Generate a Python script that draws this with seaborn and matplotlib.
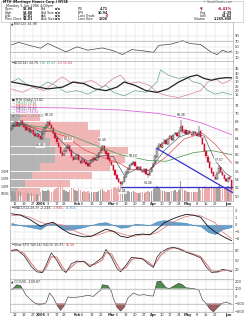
import numpy as np
import pandas as pd
import matplotlib
matplotlib.use("Agg")
import matplotlib.pyplot as plt
import seaborn as sns

# ---------------- data ----------------
holidays = ["2005-12-26", "2006-01-02", "2006-01-16", "2006-02-20", "2006-04-14", "2006-05-29"]

opens = [66.0, 66.6, 67.1, 67.9, 67.1, 67.5, 68.1, 67.3, 66.9, 66.0, 66.5, 65.5, 65.9, 65.1, 64.5, 64.9,
         64.4, 63.9, 65.1, 66.5, 66.9, 67.9, 67.1, 66.4, 65.3, 64.1, 62.9, 61.9, 60.4, 59.9, 60.9, 61.5, 62.0, 61.1, 59.5, 58.9,
         59.1, 59.9, 58.5, 58.1, 58.8, 58.3, 57.9, 57.2, 58.1, 58.5, 59.3, 58.7, 59.5, 60.5, 61.1, 62.1, 60.9, 60.3, 59.1,
         58.3, 57.5, 56.3, 55.1, 54.1, 53.5, 52.9, 53.5, 54.5, 55.9, 56.5, 57.5, 57.8, 58.3, 57.1, 56.5, 57.1, 56.1, 55.9, 56.5, 55.3, 55.1, 55.9,
         56.9, 57.9, 59.5, 61.6, 62.5, 61.7, 62.9, 63.5, 62.5, 63.9, 64.5, 63.5, 64.9, 65.3, 64.5, 65.7, 66.9, 65.3, 65.9,
         64.9, 65.7, 65.1, 64.7, 65.5, 64.9, 64.5, 65.7, 64.1, 62.7, 60.9, 59.5, 58.3, 56.7, 55.7, 54.7, 54.1, 55.5, 56.9, 55.7, 55.1, 54.1,
         53.5, 54.5, 53.88]
highs = [66.9, 67.5, 68.2, 68.1, 67.9, 68.3, 68.3, 67.6, 67.1, 66.7, 66.8, 66.2, 66.1, 65.4, 65.2, 65.1,
         64.6, 65.5, 66.7, 67.3, 68.1, 68.3, 67.4, 66.8, 65.6, 64.4, 63.1, 62.2, 60.7, 61.2, 61.9, 62.53, 62.3, 61.3, 59.8, 59.6,
         60.2, 60.1, 58.8, 59.2, 59.0, 58.5, 58.1, 58.3, 58.9, 59.5, 59.5, 59.9, 60.7, 61.5, 62.4, 62.3, 61.1, 60.5, 59.4,
         58.5, 57.7, 56.5, 55.4, 54.3, 53.7, 53.6, 54.9, 56.0, 56.9, 57.7, 58.1, 58.5, 58.4, 57.4, 57.3, 57.3, 56.4, 56.7, 56.7, 55.6, 56.1, 57.1,
         58.1, 59.9, 61.8, 62.8, 62.7, 63.0, 63.7, 63.7, 64.0, 64.7, 64.7, 65.0, 65.5, 65.5, 65.9, 68.38, 67.1, 66.1, 66.1,
         65.9, 65.9, 65.3, 65.6, 65.7, 65.1, 67.0, 65.9, 64.3, 62.9, 61.1, 59.8, 58.5, 57.0, 55.9, 55.0, 55.7, 57.57, 57.1, 56.0, 55.3, 54.3,
         54.7, 54.8, 53.88]
lows = [65.7, 66.3, 66.8, 66.7, 66.8, 67.2, 67.1, 66.5, 65.7, 65.8, 65.3, 65.2, 64.8, 64.3, 64.2, 63.9,
        63.45, 63.6, 64.9, 66.2, 66.6, 66.9, 66.2, 65.0, 63.8, 62.7, 61.5, 60.2, 59.4, 59.6, 60.6, 61.3, 60.7, 59.3, 58.5, 58.6,
        58.8, 58.4, 57.7, 57.9, 57.9, 57.6, 57.0, 57.0, 57.9, 58.3, 58.5, 58.5, 59.3, 60.3, 60.9, 60.8, 60.0, 58.8, 58.1,
        57.3, 56.0, 54.8, 53.9, 53.2, 52.6, 52.41, 53.3, 54.3, 55.6, 56.3, 57.2, 57.6, 57.0, 56.4, 56.3, 56.0, 55.6, 55.6, 55.2, 54.46, 54.9, 55.7,
        56.7, 57.7, 59.3, 61.3, 61.6, 61.5, 62.6, 62.4, 62.3, 63.7, 63.4, 63.3, 64.7, 64.3, 64.3, 65.5, 65.1, 65.1, 64.8,
        64.7, 65.0, 64.6, 64.5, 64.8, 64.4, 64.3, 64.0, 62.4, 60.6, 59.3, 58.0, 56.5, 55.4, 54.5, 53.9, 53.9, 55.3, 55.6, 54.8, 54.0, 53.4,
        53.3, 53.8, 50.81]
closes = [66.5, 67.2, 67.8, 67.0, 67.6, 68.0, 67.4, 66.8, 66.0, 66.4, 65.6, 65.9, 65.0, 64.6, 64.9, 64.2,
          63.8, 65.2, 66.4, 67.0, 67.8, 67.2, 66.5, 65.2, 64.0, 63.0, 61.8, 60.5, 59.8, 60.8, 61.6, 62.1, 61.0, 59.6, 58.8, 59.2,
          59.8, 58.6, 58.0, 58.9, 58.2, 57.8, 57.3, 58.0, 58.6, 59.2, 58.8, 59.6, 60.4, 61.2, 62.0, 61.0, 60.2, 59.0, 58.4,
          57.6, 56.2, 55.0, 54.2, 53.4, 52.8, 53.4, 54.6, 55.8, 56.6, 57.4, 57.9, 58.2, 57.2, 56.6, 57.0, 56.2, 55.8, 56.4, 55.4, 55.0, 55.8, 56.8,
          57.8, 59.6, 61.5, 62.4, 61.8, 62.8, 63.4, 62.6, 63.8, 64.4, 63.6, 64.8, 65.2, 64.6, 65.6, 66.8, 65.4, 65.8, 65.0,
          65.6, 65.2, 64.8, 65.4, 65.0, 64.6, 65.6, 64.2, 62.6, 60.8, 59.6, 58.2, 56.8, 55.6, 54.8, 54.2, 55.4, 56.8, 55.8, 55.0, 54.2, 53.6,
          54.4, 54.01, 51.62]
volumes_k = [700, 650, 600, 720, 680, 640, 590, 610, 700, 560, 540, 520, 480, 450, 500, 470,
             640, 720, 680, 700, 760, 650, 600, 680, 820, 900, 1050, 1450, 980, 760, 700, 640, 720, 850, 900, 760,
             700, 820, 760, 640, 680, 620, 700, 560, 600, 620, 580, 640, 700, 760, 820, 680, 640, 720, 760,
             800, 900, 940, 860, 1000, 1100, 980, 820, 760, 700, 640, 600, 680, 620, 560, 540, 600, 580, 560, 640, 700, 620, 680,
             820, 960, 1000, 900, 760, 700, 680, 640, 620, 600, 660, 700, 720, 640, 760, 1350, 900, 740, 680,
             620, 600, 580, 640, 600, 580, 880, 760, 900, 1000, 960, 920, 880, 1000, 940, 860, 980, 1050, 880, 820, 900, 940,
             1000, 880, 1270]

# moving averages (read at sparse points)
ma200_idx = [0, 30, 60, 80, 95, 105, 121]
ma200_val = [71.5, 71.3, 70.8, 70.0, 68.8, 67.6, 64.8]
ma50_idx = [0, 20, 35, 50, 60, 75, 85, 100, 110, 121]
ma50_val = [67.6, 66.5, 64.2, 61.6, 60.0, 58.6, 58.4, 60.5, 61.0, 60.0]
ma20_idx = [0, 10, 20, 30, 40, 50, 60, 65, 75, 85, 95, 105, 112, 121]
ma20_val = [67.0, 66.8, 65.8, 64.4, 61.2, 59.4, 57.8, 56.4, 56.2, 59.5, 63.8, 65.2, 62.5, 58.0]
ma10_idx = [0, 8, 16, 22, 28, 34, 42, 50, 56, 62, 68, 76, 84, 92, 100, 106, 112, 118, 121]
ma10_val = [67.0, 67.3, 65.5, 65.8, 63.0, 60.5, 58.4, 59.8, 59.6, 55.0, 56.4, 56.2, 61.0, 64.2, 65.6, 64.4, 58.5, 55.4, 54.6]

# trend lines
trend_idx = [80, 121.7]
trend_val = [61.5, 50.8]
support_idx = [60, 121.7]
support_val = [52.2, 52.2]

# price annotations
ann_idx = [16, 21, 31, 50, 61, 67, 75, 93, 114]
ann_val = [63.45, 68.30, 62.53, 62.40, 52.41, 58.50, 54.46, 68.38, 57.57]
ann_up = [False, True, True, True, False, True, False, True, True]

# volume by price
vbp_mid = [51, 53, 55, 57, 59, 61, 63, 65, 67, 69]
vbp_up = [8, 15, 22, 30, 45, 45, 40, 35, 18, 10]
vbp_down = [22, 45, 60, 70, 70, 73, 50, 55, 60, 20]

# indicators (read at sparse points)
rsi_idx = [0, 4, 10, 16, 20, 24, 30, 36, 42, 50, 56, 61, 66, 72, 78, 81, 88, 94, 98, 104, 110, 113, 116, 119, 121]
rsi_val = [57, 66, 55, 45, 62, 50, 32, 50, 38, 46, 36, 22, 40, 36, 30, 55, 60, 72, 62, 58, 30, 22, 38, 30, 35]

adx_idx = [0, 10, 20, 28, 34, 40, 46, 52, 58, 62, 68, 74, 80, 86, 92, 98, 102, 106, 110, 114, 118, 121]
adx_val = [30, 26, 22, 24, 30, 28, 22, 20, 24, 30, 26, 20, 18, 22, 30, 36, 38, 34, 32, 34, 35, 34.76]
pdi_idx = [0, 4, 8, 14, 20, 24, 30, 36, 42, 48, 52, 56, 62, 68, 74, 80, 82, 86, 92, 96, 100, 104, 108, 112, 116, 121]
pdi_val = [30, 34, 28, 22, 30, 26, 18, 20, 16, 22, 26, 18, 14, 20, 18, 30, 44, 38, 34, 36, 30, 28, 20, 16, 18, 15.47]
mdi_idx = [0, 6, 12, 18, 24, 28, 32, 38, 44, 50, 56, 60, 64, 70, 76, 80, 86, 92, 98, 104, 108, 112, 116, 121]
mdi_val = [22, 18, 24, 20, 30, 36, 30, 28, 32, 24, 34, 38, 28, 30, 26, 18, 14, 12, 16, 20, 30, 34, 28, 32.84]

macd_idx = [0, 5, 10, 16, 20, 23, 28, 32, 36, 40, 44, 48, 52, 56, 60, 64, 68, 72, 76, 80, 84, 88, 92, 96, 100, 104, 108, 112, 116, 121]
macd_val = [1.6, 1.4, 0.8, -0.2, 0.2, 0.4, -0.6, -1.2, -1.5, -1.7, -1.6, -1.1, -0.6, -0.9, -1.6, -1.8, -1.4, -1.3, -1.4, -0.6, 0.3, 0.8, 1.2, 1.5, 1.4, 1.1, -0.2, -1.0, -1.6, -2.248]
sig_val = [1.3, 1.45, 1.1, 0.4, 0.1, 0.2, 0.0, -0.5, -1.0, -1.4, -1.6, -1.4, -1.0, -0.9, -1.2, -1.5, -1.6, -1.4, -1.4, -1.1, -0.4, 0.3, 0.8, 1.2, 1.4, 1.3, 0.8, 0.3, -1.0, -1.946]
hist_val = [0.3, -0.05, -0.3, -0.6, 0.1, 0.25, -0.6, -0.7, -0.5, -0.3, 0.0, 0.3, 0.4, 0.0, -0.4, -0.3, 0.2, 0.1, 0.0, 0.5, 0.7, 0.5, 0.4, 0.3, 0.0, -0.2, -1.0, -1.3, -0.6, -0.302]

sto_idx = [0, 3, 7, 11, 14, 17, 19, 22, 25, 28, 30, 33, 36, 40, 43, 46, 50, 52, 55, 58, 60, 63, 66, 68, 72, 75, 78, 80, 82, 86, 89, 92, 96, 100, 104, 107, 110, 113, 116, 119, 121]
stok_val = [82, 84, 65, 30, 14, 12, 35, 74, 50, 20, 12, 40, 48, 46, 30, 42, 60, 85, 60, 25, 14, 35, 60, 58, 55, 40, 28, 60, 75, 88, 92, 86, 76, 68, 58, 30, 12, 14, 22, 18, 16]
stod_val = [80, 83, 72, 40, 20, 12, 25, 62, 60, 30, 15, 30, 45, 47, 35, 38, 52, 75, 70, 38, 20, 28, 52, 58, 56, 46, 32, 48, 66, 84, 90, 88, 78, 70, 62, 40, 18, 13, 18, 19, 16]

cci_idx = [0, 3, 5, 8, 12, 15, 17, 19, 21, 23, 25, 27, 29, 31, 34, 38, 42, 45, 49, 50, 53, 55, 56, 58, 60, 62, 64, 67, 70, 73, 75, 78, 80, 82, 85, 87, 89, 92, 94, 96, 100, 103, 105, 107, 109, 111, 113, 116, 118, 120, 121]
cci_val = [80, 150, 140, 13, -80, -120, -110, -90, 40, -20, -120, -190, -130, -13, -20, -10, 10, -5, 80, 150, 140, 60, -30, -150, -200, -150, -27, 40, 10, 20, 5, 0, 190, 200, 110, 100, 130, 170, 150, 110, 100, 80, -50, -100, -170, -210, -160, -95, -80, -100, -110]

tick_dates = ["2005-12-12", "2005-12-19", "2005-12-27", "2006-01-03", "2006-01-09", "2006-01-17", "2006-01-23",
              "2006-02-01", "2006-02-06", "2006-02-13", "2006-02-21", "2006-03-01", "2006-03-06", "2006-03-13",
              "2006-03-20", "2006-03-27", "2006-04-03", "2006-04-10", "2006-04-17", "2006-04-24", "2006-05-01",
              "2006-05-08", "2006-05-15", "2006-05-22", "2006-06-01"]
tick_labels = ["12", "19", "27", "2006", "9", "17", "23", "Feb", "6", "13", "21", "Mar", "6", "13", "20", "27",
               "Apr", "10", "17", "24", "May", "8", "15", "22", "Jun"]

# ---------------- setup ----------------
sns.set_theme(style="white")
plt.rcParams['font.family'] = ['DejaVu Sans']

dates = pd.bdate_range("2005-12-08", "2006-06-05")
dates = dates[~dates.isin(pd.to_datetime(holidays))]
n = len(dates)
assert n == len(closes) == len(opens) == len(highs) == len(lows) == len(volumes_k)
xi = np.arange(n)
tick_idx = [dates.get_loc(pd.Timestamp(d)) for d in tick_dates]

W, H = 244, 320
fig = plt.figure(figsize=(W / 100, H / 100), dpi=100)
fig.patch.set_facecolor("white")
X0, X1 = 10, 233
FS = 2.6
GRID = "#dddddd"
XLIM = (-0.77, n - 1 + 0.77)


def axes_px(y0, y1, x0=X0, x1=X1):
    return fig.add_axes([x0 / W, 1 - y1 / H, (x1 - x0) / W, (y1 - y0) / H])


def style(ax, ylim, yticks, ylabels=None, show_x=False):
    ax.set_xlim(*XLIM)
    ax.set_ylim(*ylim)
    ax.set_yticks(yticks)
    if ylabels is not None:
        ax.set_yticklabels(ylabels)
    ax.yaxis.tick_right()
    ax.tick_params(axis='y', labelsize=FS, length=0, pad=1, colors="#333333")
    ax.set_xticks(tick_idx)
    if show_x:
        ax.set_xticklabels(tick_labels)
        for lab in ax.get_xticklabels():
            if not lab.get_text().isdigit() or lab.get_text() == "2006":
                lab.set_fontweight("bold")
    else:
        ax.set_xticklabels([])
    ax.tick_params(axis='x', labelsize=FS, length=0, pad=1, colors="#333333")
    ax.grid(True, color=GRID, lw=0.35)
    ax.set_axisbelow(True)
    ax.set_xlabel("")
    ax.set_ylabel("")
    for s in ax.spines.values():
        s.set_color("#999999")
        s.set_linewidth(0.4)


renderer = fig.canvas.get_renderer()


def seq_text(x, y, parts, size=FS, gap=1.2):
    for s, c in parts:
        t = fig.text(x / W, 1 - y / H, s, color=c, fontsize=size, va='center', ha='left')
        bb = t.get_window_extent(renderer=renderer)
        x += bb.width + gap


def ptext(x, y, s, ha='left', color="#222222", size=FS, weight='normal'):
    fig.text(x / W, 1 - y / H, s, ha=ha, va='center', color=color, fontsize=size, fontweight=weight)


# ---------------- header ----------------
hx = fig.add_axes([1 / W, 1 - 21.5 / H, 242 / W, 21 / H])
hx.set_xticks([]); hx.set_yticks([])
for s in hx.spines.values():
    s.set_color("#bbbbbb"); s.set_linewidth(0.4)
ptext(3, 2.2, "MTH (Meritage Homes Corp.) NYSE", weight='bold', size=2.4)
ptext(232, 2.2, "© StockCharts.com", ha='right', size=2.2, color="#555555")
ptext(6, 5.6, "Monday 5-Jun-2006 4:00pm", size=2.4)
rows = [("Open", "53.88", "Bid", "n/a", "P/E", "4.71"),
        ("High", "53.88", "Bid Size", "n/a", "EPS", "10.94"),
        ("Low", "50.81", "Ask", "n/a", "Last Trade", "0"),
        ("Prev Close", "54.01", "Ask Size", "n/a", "Last Size", "1600")]
for k, r in enumerate(rows):
    yy = 9.4 + k * 3.3
    ptext(5, yy, r[0], size=2.3)
    ptext(33, yy, r[1], ha='right', size=2.3, weight='bold')
    ptext(41, yy, r[2], size=2.3)
    ptext(61, yy, r[3], ha='right', size=2.3, weight='bold')
    ptext(78, yy, r[4], size=2.3)
    ptext(108, yy, r[5], ha='right', size=2.3, weight='bold',
          color="#cc0000" if r[4] == "Last Trade" else "#222222")
ptext(200, 9.4, "▼", color="#aa1144", size=2.6)
ptext(232, 9.4, "-4.43%", ha='right', color="#aa1144", size=2.6, weight='bold')
for k, (a, b) in enumerate([("Chg", "-2.39"), ("Last", "51.62"), ("Volume", "1,269,600")]):
    ptext(200 if a != "Volume" else 194, 12.7 + k * 3.3, a, size=2.3)
    ptext(232, 12.7 + k * 3.3, b, ha='right', size=2.3, weight='bold')

# ---------------- RSI ----------------
ax_rsi = axes_px(21.5, 61)
sns.lineplot(x=rsi_idx, y=rsi_val, ax=ax_rsi, color="#444444", linewidth=0.5)
style(ax_rsi, (-1, 141), [10, 30, 50, 70, 90])
ax_rsi.axhline(70, color="#aaaaaa", lw=0.4)
ax_rsi.axhline(30, color="#aaaaaa", lw=0.4)
seq_text(11, 23.6, [("▲RSI(14) 34.98", "#333333")], size=2.4)

# ---------------- ADX ----------------
ax_adx = axes_px(61, 98)
sns.lineplot(x=pdi_idx, y=pdi_val, ax=ax_adx, color="#6aa88a", linewidth=0.5)
sns.lineplot(x=mdi_idx, y=mdi_val, ax=ax_adx, color="#d880a0", linewidth=0.5)
sns.lineplot(x=adx_idx, y=adx_val, ax=ax_adx, color="#222222", linewidth=0.9)
style(ax_adx, (11.5, 54.2), [15, 20, 25, 30, 35, 40, 45])
seq_text(11, 63.5, [("━ ADX(14) 34.76", "#333333"), ("+DI 15.47", "#4a9a6a"), ("-DI 32.84", "#cc4477")], size=2.3)

# ---------------- Price panel ----------------
PY0, PY1 = 98, 201
ax_vbp = axes_px(PY0, PY1)
ax_vbp.barh(vbp_mid, vbp_up, height=1.85, color="#a8a8a8", alpha=0.85, lw=0)
ax_vbp.barh(vbp_mid, vbp_down, left=vbp_up, height=1.85, color="#eeaaaa", alpha=0.85, lw=0)
ax_vbp.set_xlim(0, X1 - X0)
ax_vbp.set_ylim(48.8, 73.7)
ax_vbp.set_xticks([]); ax_vbp.set_yticks([])
for s in ax_vbp.spines.values():
    s.set_visible(False)

ax_vol = axes_px(PY0, PY1)
ax_vol.patch.set_visible(False)
vol_col = ["#a0a0a0" if (k == 0 or closes[k] >= closes[k - 1]) else "#eeaaaa" for k in range(n)]
ax_vol.bar(xi, volumes_k, width=0.8, color=vol_col, lw=0)
ax_vol.set_xlim(*XLIM)
ax_vol.set_ylim(0, 7000)
ax_vol.set_yticks([500, 1000, 1500, 2000])
ax_vol.set_yticklabels(["500K", "1.0M", "1.5M", "2.0M"])
ax_vol.tick_params(axis='y', labelsize=2.3, length=0, pad=0.8, colors="#333333")
ax_vol.set_xticks([])
for s in ax_vol.spines.values():
    s.set_visible(False)

ax_p = axes_px(PY0, PY1)
ax_p.patch.set_visible(False)
sns.lineplot(x=ma200_idx, y=ma200_val, ax=ax_p, color="#dd66dd", linewidth=0.6)
sns.lineplot(x=ma50_idx, y=ma50_val, ax=ax_p, color="#5f9f5f", linewidth=0.6)
sns.lineplot(x=ma20_idx, y=ma20_val, ax=ax_p, color="#dd4444", linewidth=0.45)
sns.lineplot(x=ma10_idx, y=ma10_val, ax=ax_p, color="#445566", linewidth=0.45)
for k in range(n):
    up = k == 0 or closes[k] >= closes[k - 1]
    col = "#111111" if up else "#cc1133"
    ax_p.vlines(xi[k], lows[k], highs[k], color=col, lw=0.35)
    lo, hi = min(opens[k], closes[k]), max(opens[k], closes[k])
    face = "white" if closes[k] > opens[k] else col
    ax_p.bar(xi[k], max(hi - lo, 0.08), bottom=lo, width=0.75, color=face, edgecolor=col, lw=0.25)
sns.lineplot(x=trend_idx, y=trend_val, ax=ax_p, color="#3333cc", linewidth=0.9)
sns.lineplot(x=support_idx, y=support_val, ax=ax_p, color="#3333cc", linewidth=0.9)
for k, v, u in zip(ann_idx, ann_val, ann_up):
    ax_p.annotate(f"{v:.2f}", (k, v), xytext=(0, 2.2 if u else -2.2), textcoords='offset points',
                  ha='center', va='bottom' if u else 'top', fontsize=2.2, color="#222222",
                  bbox=dict(boxstyle='square,pad=0.15', fc='white', ec='none', alpha=0.8))
style(ax_p, (48.8, 73.7), list(range(50, 73, 2)), show_x=True)
ax_p.grid(False)
ax_vbp.grid(False)
for t in tick_idx:
    ax_vbp.axvline((t - XLIM[0]) / (XLIM[1] - XLIM[0]) * (X1 - X0), color=GRID, lw=0.35, zorder=0)
for v in range(50, 73, 2):
    ax_vbp.axhline(v, color=GRID, lw=0.35, zorder=0)

legend_rows = [("■ MTH (Daily) 51.62", "#222222"), ("— MA(50) 59.82", "#5f9f5f"), ("— MA(20) 57.90", "#dd4444"),
               ("— MA(10) 54.60", "#445566"), ("— MA(200) 64.82", "#cc44cc"), ("■ Volume 1,269,600", "#888888")]
for k, (s, c) in enumerate(legend_rows):
    ptext(11.5, 100 + k * 3.1, s, color=c, size=2.2)

# ---------------- MACD ----------------
ax_m = axes_px(206, 243)
ax_m.fill_between(macd_idx, 0, hist_val, color="#4d8fc4", alpha=0.85, lw=0.3, edgecolor="#2f6f9f")
sns.lineplot(x=macd_idx, y=sig_val, ax=ax_m, color="#e07070", linewidth=0.5)
sns.lineplot(x=macd_idx, y=macd_val, ax=ax_m, color="#111111", linewidth=0.6)
style(ax_m, (-2.57, 2.7), [-2, -1, 0, 1, 2])
seq_text(11, 208, [("━ MACD(12,26,9) -2.248,", "#333333"), ("-1.946,", "#cc3333"), ("-0.302", "#3377bb")], size=2.3)

# ---------------- Slow STO ----------------
ax_s = axes_px(243, 279)
sns.lineplot(x=sto_idx, y=stod_val, ax=ax_s, color="#e08888", linewidth=0.9)
sns.lineplot(x=sto_idx, y=stok_val, ax=ax_s, color="#222222", linewidth=0.5)
style(ax_s, (-8.4, 105), [20, 50, 80])
ax_s.axhline(80, color="#aaaaaa", lw=0.4)
ax_s.axhline(20, color="#aaaaaa", lw=0.4)
seq_text(11, 245.3, [("━ Slow STO %K(14) %D(3) 15.97,", "#333333"), ("15.56", "#cc3333")], size=2.3)

# ---------------- CCI ----------------
ax_c = axes_px(279, 312)
cv = np.array(cci_val, dtype=float)
ax_c.fill_between(cci_idx, 100, cv, where=cv > 100, interpolate=True, color="#4f8a4f", lw=0)
ax_c.fill_between(cci_idx, -100, cv, where=cv < -100, interpolate=True, color="#a35c5c", lw=0)
sns.lineplot(x=cci_idx, y=cci_val, ax=ax_c, color="#444444", linewidth=0.45)
style(ax_c, (-213, 227), [-200, -100, 0, 100, 200], show_x=True)
ax_c.axhline(100, color="#aaaaaa", lw=0.4)
ax_c.axhline(-100, color="#aaaaaa", lw=0.4)
seq_text(11, 281.5, [("▲ CCI(20) -109.87", "#333333")], size=2.3)

fig.savefig("out.png", dpi=100)
